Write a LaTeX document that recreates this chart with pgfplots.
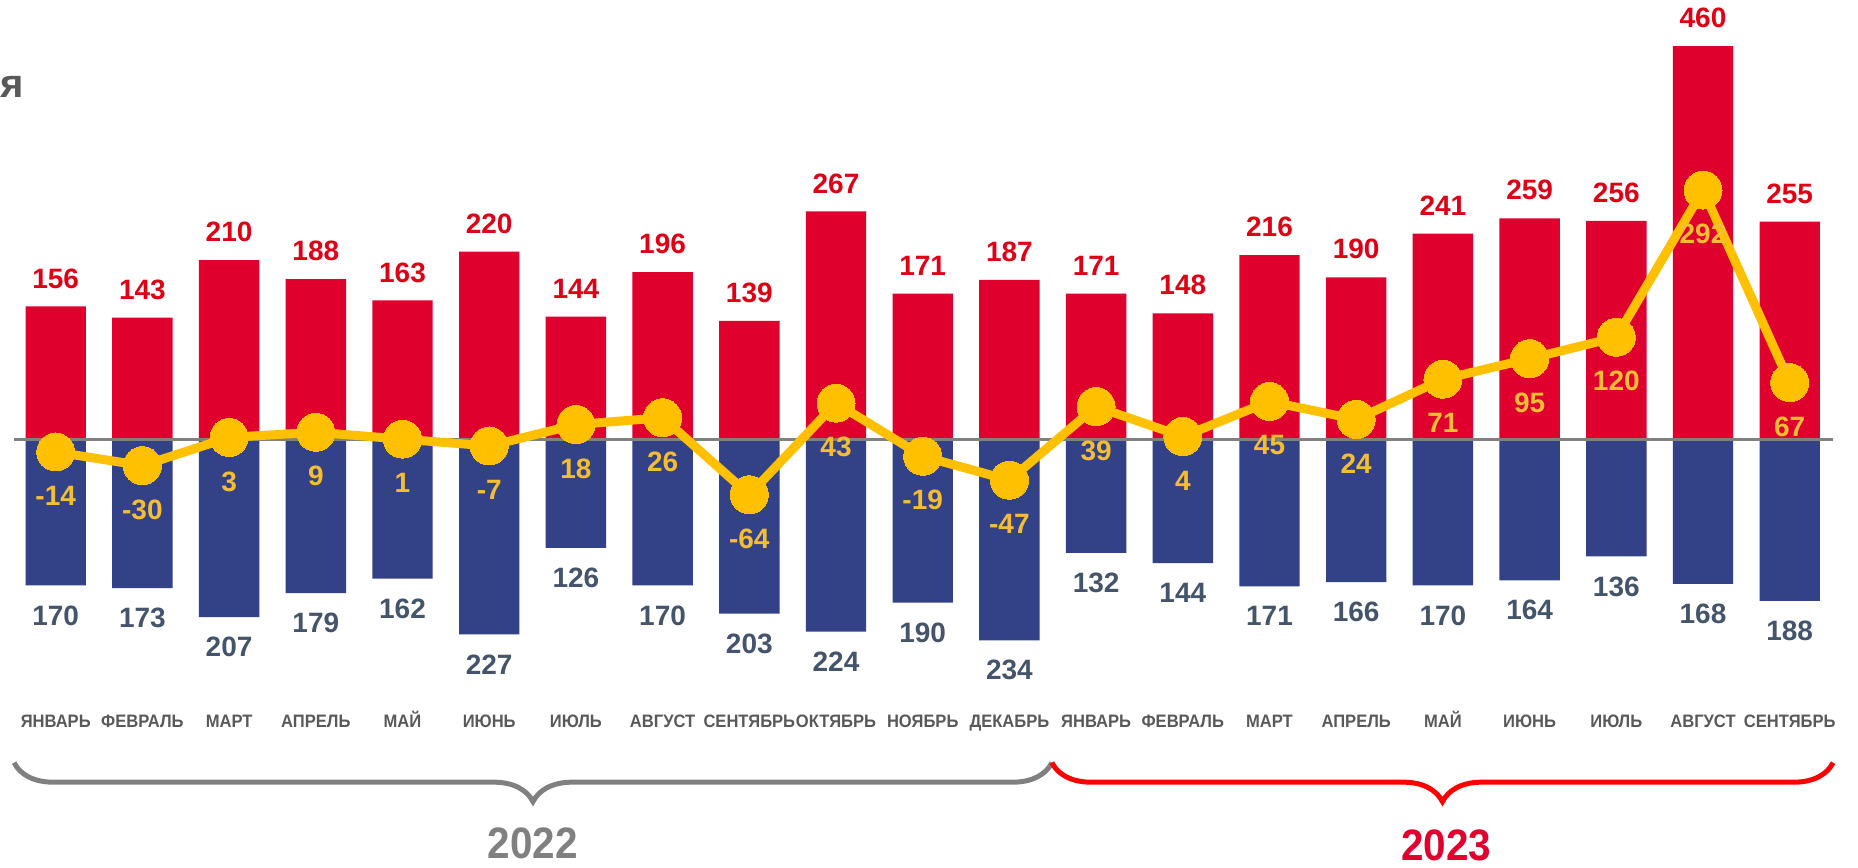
\documentclass[border=0pt]{standalone}
\usepackage{fontspec}
\setmainfont{Liberation Sans}
\newfontfamily\narrowfont[FakeStretch=0.92]{Liberation Sans}
\usepackage{pgfplots}
\usepackage{pgfplotstable}
\pgfplotsset{compat=1.18}
\usetikzlibrary{decorations.pathreplacing}
\definecolor{barred}{RGB}{224,0,45}
\definecolor{barblue}{RGB}{51,65,135}
\definecolor{redtext}{RGB}{222,0,20}
\definecolor{bluetext}{RGB}{68,84,106}
\definecolor{lineyellow}{RGB}{255,192,0}
\definecolor{labelyellow}{RGB}{245,190,50}
\definecolor{zerogray}{RGB}{128,128,128}
\definecolor{ticktext}{RGB}{89,89,89}
\definecolor{yeargray}{RGB}{128,128,128}
\definecolor{yearred}{RGB}{224,0,45}
\definecolor{bracered}{RGB}{255,0,0}

\pgfplotstableread{
x pos neg net
0 156 170 -14
1 143 173 -30
2 210 207 3
3 188 179 9
4 163 162 1
5 220 227 -7
6 144 126 18
7 196 170 26
8 139 203 -64
9 267 224 43
10 171 190 -19
11 187 234 -47
12 171 132 39
13 148 144 4
14 216 171 45
15 190 166 24
16 241 170 71
17 259 164 95
18 256 136 120
19 460 168 292
20 255 188 67
}\datatable

\begin{document}
\begin{tikzpicture}
\begin{axis}[
  x=43.35pt, y=0.428pt,
  xmin=-0.5, xmax=20.5, ymin=-328, ymax=514,
  axis line style={draw=none},
  tick style={draw=none},
  major tick length=0pt,
  ytick=\empty,
  xtick={0,...,20},
  xticklabels={ЯНВАРЬ,ФЕВРАЛЬ,МАРТ,АПРЕЛЬ,МАЙ,ИЮНЬ,ИЮЛЬ,АВГУСТ,СЕНТЯБРЬ,ОКТЯБРЬ,НОЯБРЬ,ДЕКАБРЬ,ЯНВАРЬ,ФЕВРАЛЬ,МАРТ,АПРЕЛЬ,МАЙ,ИЮНЬ,ИЮЛЬ,АВГУСТ,СЕНТЯБРЬ},
  xticklabel style={anchor=center, inner sep=0pt, text height=6.4pt, text depth=0pt,
    font=\narrowfont\bfseries\fontsize{9}{9}\selectfont, text=ticktext},
  clip=false,
]
% invisible frame fixing the picture's extent
\path (axis cs:-0.6425,514) rectangle (axis cs:20.788,-499);

\addplot[ybar, bar width=30.2pt, bar shift=0pt, fill=barred, draw=none,
  point meta=explicit symbolic,
  nodes near coords,
  every node near coord/.style={anchor=center, yshift=14pt, inner sep=0pt,
    font=\bfseries\fontsize{14}{14}\selectfont, text=redtext}]
  table[x=x, y=pos, meta=pos]{\datatable};

\addplot[ybar, bar width=30.2pt, bar shift=0pt, fill=barblue, draw=none,
  point meta=explicit symbolic,
  nodes near coords,
  every node near coord/.style={anchor=center, yshift=-15pt, inner sep=0pt,
    font=\bfseries\fontsize{14}{14}\selectfont, text=bluetext}]
  table[x=x, y expr=-\thisrow{neg}, meta=neg]{\datatable};

\addplot[draw=zerogray, line width=1.5pt, no marks] coordinates {(-0.48,0) (20.5,0)};

\addplot[color=lineyellow, line width=4.5pt, mark=*, mark size=9.5pt,
  mark options={solid, line width=0pt, fill=lineyellow, draw=lineyellow},
  point meta=explicit symbolic,
  nodes near coords,
  every node near coord/.style={anchor=center, yshift=-22pt, inner sep=0pt,
    font=\bfseries\fontsize{14}{14}\selectfont, text=labelyellow}]
  table[x=x, y=net, meta=net]{\datatable};

% braces and years
\draw[decorate, decoration={brace, mirror, amplitude=19.5pt}, line width=2.5pt, color=zerogray]
  (axis cs:-0.48,-377) -- (axis cs:11.49,-377);
\draw[decorate, decoration={brace, mirror, amplitude=19.5pt}, line width=2.5pt, color=bracered]
  (axis cs:11.49,-377) -- (axis cs:20.5,-377);
\node[inner sep=0pt, font=\narrowfont\bfseries\fontsize{22}{22}\selectfont, text=yeargray] at (axis cs:5.5,-471) {2022};
\node[inner sep=0pt, font=\narrowfont\bfseries\fontsize{22}{22}\selectfont, text=yearred] at (axis cs:16.04,-474) {2023};

\node[anchor=west, inner sep=0pt, font=\bfseries\fontsize{20}{20}\selectfont, text=ticktext] at (axis cs:-0.6425,412) {я};
\end{axis}
\end{tikzpicture}
\end{document}
